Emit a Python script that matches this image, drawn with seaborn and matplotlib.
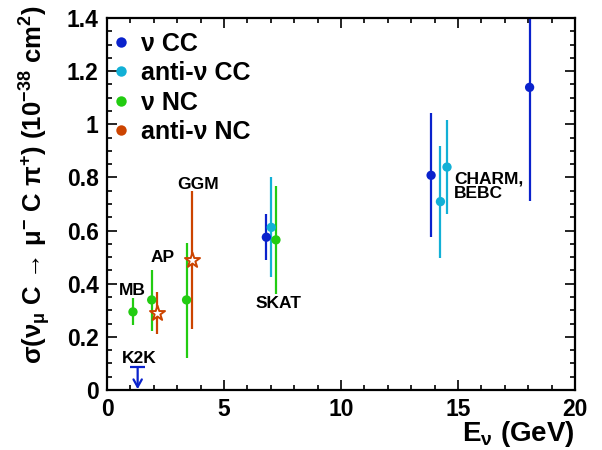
import numpy as np
import pandas as pd
import matplotlib
matplotlib.use("Agg")
import matplotlib.pyplot as plt
import seaborn as sns
from matplotlib.lines import Line2D
from matplotlib.ticker import MultipleLocator

# ---------------- data ----------------
series_names = ["ν CC", "anti-ν CC", "ν NC", "anti-ν NC"]
series_colors = ["#0a22cc", "#12b0d6", "#22cc11", "#cc4400"]

nucc_x = [6.81, 13.85, 18.06]
nucc_y = [0.575, 0.808, 1.139]
nucc_lo = [0.489, 0.577, 0.713]
nucc_hi = [0.661, 1.041, 1.60]

anucc_x = [7.02, 14.25, 14.53]
anucc_y = [0.612, 0.709, 0.839]
anucc_lo = [0.424, 0.498, 0.662]
anucc_hi = [0.800, 0.919, 1.015]

nunc_x = [1.11, 1.91, 3.40, 7.22]
nunc_y = [0.294, 0.339, 0.339, 0.565]
nunc_lo = [0.245, 0.223, 0.119, 0.361]
nunc_hi = [0.346, 0.452, 0.552, 0.769]

anunc_x = [2.12, 3.62]
anunc_y = [0.291, 0.489]
anunc_lo = [0.211, 0.228]
anunc_hi = [0.370, 0.750]

k2k_x = 1.31
k2k_limit = 0.085

exp_labels = ["GGM", "AP", "MB", "K2K", "SKAT", "CHARM,\nBEBC"]
exp_label_x = [3.89, 2.39, 1.07, 1.37, 7.35, 14.83]
exp_label_y = [0.775, 0.497, 0.376, 0.12, 0.327, 0.766]

x_ticks = [0, 5, 10, 15, 20]
y_ticks = [0, 0.2, 0.4, 0.6, 0.8, 1.0, 1.2, 1.4]
y_tick_labels = ["0", "0.2", "0.4", "0.6", "0.8", "1", "1.2", "1.4"]

# ---------------- style ----------------
sns.set_theme(style="white")
plt.rcParams["font.family"] = ["Liberation Sans", "DejaVu Sans"]
plt.rcParams["font.weight"] = "bold"
plt.rcParams["text.color"] = "black"
plt.rcParams["axes.labelcolor"] = "black"
plt.rcParams["xtick.color"] = "black"
plt.rcParams["ytick.color"] = "black"
plt.rcParams["mathtext.fontset"] = "custom"
plt.rcParams["mathtext.rm"] = "Liberation Sans:bold"
plt.rcParams["mathtext.it"] = "Liberation Sans:bold"
plt.rcParams["mathtext.bf"] = "Liberation Sans:bold"
plt.rcParams["mathtext.default"] = "regular"

fig = plt.figure(figsize=(6.02, 4.5), dpi=100)
ax = fig.add_axes([107 / 602, 1 - 390 / 450, (575 - 107) / 602, (390 - 18) / 450])

frames = []
for name, xs, ys, lo, hi in [
    (series_names[0], nucc_x, nucc_y, nucc_lo, nucc_hi),
    (series_names[1], anucc_x, anucc_y, anucc_lo, anucc_hi),
    (series_names[2], nunc_x, nunc_y, nunc_lo, nunc_hi),
    (series_names[3], anunc_x, anunc_y, anunc_lo, anunc_hi),
]:
    frames.append(pd.DataFrame({"E": xs, "sigma": ys, "lo": lo, "hi": hi, "series": name}))
df = pd.concat(frames, ignore_index=True)
palette = dict(zip(series_names, series_colors))

# error bars
for _, r in df.iterrows():
    ax.vlines(r["E"], r["lo"], r["hi"], color=palette[r["series"]], lw=1.6, zorder=2)

# points
circ = df[df["series"] != series_names[3]]
sns.scatterplot(data=circ, x="E", y="sigma", hue="series", palette=palette,
                marker="o", s=45, edgecolor="none", legend=False, ax=ax, zorder=3)
stars = df[df["series"] == series_names[3]]
ax.scatter(stars["E"], stars["sigma"], marker="*", s=130, facecolor="white",
           edgecolor=series_colors[3], linewidth=1.4, zorder=4)

# K2K upper limit
ax.hlines(k2k_limit, k2k_x - 0.33, k2k_x + 0.33, color=series_colors[0], lw=1.6, zorder=3)
ax.annotate("", xy=(k2k_x, 0.003), xytext=(k2k_x, k2k_limit),
            arrowprops=dict(arrowstyle="->,head_width=0.25,head_length=0.45",
                            color=series_colors[0], lw=1.6, shrinkA=0, shrinkB=0), zorder=3)

# experiment labels
for t, xx, yy in zip(exp_labels, exp_label_x, exp_label_y):
    if t.startswith("CHARM"):
        ax.text(xx, yy, t, ha="left", va="center", fontsize=12.5, fontweight="bold",
                linespacing=0.95)
    else:
        ax.text(xx, yy, t, ha="center", va="center", fontsize=12.5, fontweight="bold")

# axes
ax.set_xlim(0, 20)
ax.set_ylim(0, 1.4)
ax.set_xticks(x_ticks)
ax.set_xticklabels([str(v) for v in x_ticks])
ax.set_yticks(y_ticks)
ax.set_yticklabels(y_tick_labels)
ax.xaxis.set_minor_locator(MultipleLocator(1))
ax.yaxis.set_minor_locator(MultipleLocator(0.05))
ax.tick_params(which="both", direction="in", top=True, right=True, bottom=True, left=True,
               width=1.2, colors="black")
ax.tick_params(which="major", length=7, labelsize=16.5, pad=6)
ax.tick_params(which="minor", length=3.5)
for lab in ax.get_xticklabels() + ax.get_yticklabels():
    lab.set_fontweight("bold")
for s in ax.spines.values():
    s.set_linewidth(1.6)
    s.set_color("black")
ax.set_xlabel("")
ax.set_ylabel("")

fig.text(575 / 602, 1 - 434 / 450, r"E$_{ν}$ (GeV)", ha="right", va="center",
         fontsize=20, fontweight="bold")
fig.text(35 / 602, 1 - 5 / 450,
         r"σ(ν$_{μ}$ C → μ$^{-}$ C π$^{+}$) (10$^{-38}$ cm$^{2}$)",
         rotation=90, ha="center", va="top", fontsize=18.5, fontweight="bold")

handles = [Line2D([0], [0], marker="o", color="none", markerfacecolor=c,
                  markeredgecolor="none", markersize=7.5) for c in series_colors]
leg = ax.legend(handles, series_names, loc="upper left", bbox_to_anchor=(-0.019, 1.004),
                frameon=False, prop={"size": 18, "weight": "bold"},
                handlelength=0.6, handletextpad=0.5, labelspacing=0.22, borderaxespad=0.2)

fig.savefig("out.png", dpi=100)
